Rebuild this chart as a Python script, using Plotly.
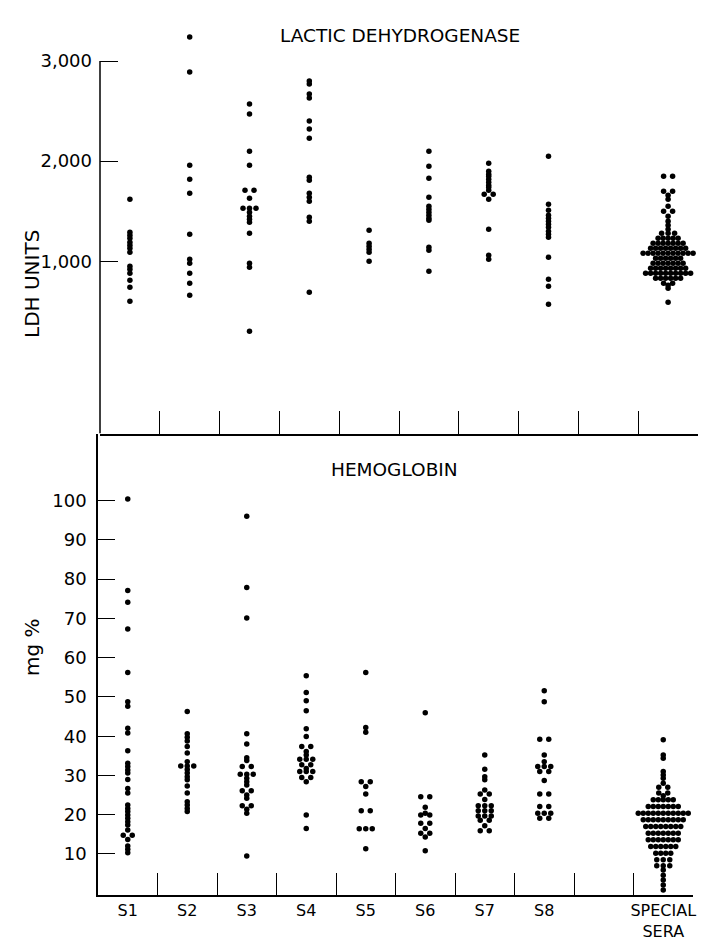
import plotly.graph_objects as go
from collections import Counter

# ---------------- data ----------------
slots = ["S1", "S2", "S3", "S4", "S5", "S6", "S7", "S8", "", "SPECIAL<br>SERA"]

ldh_s1 = [1620, 1290, 1260, 1230, 1190, 1160, 1130, 1090, 950, 920, 880, 810, 740, 600]
ldh_s2 = [3240, 2890, 1960, 1820, 1680, 1270, 1020, 980, 880, 780, 660]
ldh_s3 = [2570, 2470, 2100, 1960, 1710, 1710, 1630, 1530, 1530, 1530, 1490, 1450, 1420,
          1390, 1280, 980, 940, 300]
ldh_s4 = [2800, 2770, 2670, 2630, 2400, 2320, 2230, 1840, 1810, 1680, 1640, 1600, 1440, 1400, 690]
ldh_s5 = [1310, 1180, 1150, 1120, 1090, 1000]
ldh_s6 = [2100, 1950, 1830, 1640, 1550, 1520, 1490, 1460, 1430, 1410, 1140, 1110, 900]
ldh_s7 = [1980, 1900, 1870, 1850, 1820, 1790, 1760, 1740, 1710, 1670, 1670, 1620, 1320, 1060, 1020]
ldh_s8 = [2050, 1570, 1510, 1460, 1430, 1400, 1370, 1340, 1300, 1270, 1240, 1040, 820, 750, 570]
ldh_special = ([1850, 1850, 1700, 1700, 1660, 1620, 1550, 1500, 1500, 1450, 1400, 1360, 1320]
               + [1280] * 3 + [1230] * 5 + [1180] * 7 + [1130] * 8 + [1080] * 11
               + [1030] * 6 + [980] * 7 + [930] * 8 + [880] * 10 + [830] * 6
               + [780] * 2 + [760, 730, 590])

hb_s1 = [100.4, 77.1, 74.1, 67.3, 56.2, 48.8, 47.6, 42.0, 40.8, 36.3, 33.1, 32.3, 31.4, 30.6,
         29.0, 26.7, 25.5, 22.5, 21.6, 20.8, 19.9, 19.1, 18.2, 17.4, 16.1, 14.8, 14.8, 13.7,
         12.0, 11.2, 10.3]
hb_s2 = [46.3, 40.6, 39.7, 38.8, 37.4, 35.7, 33.5, 32.4, 32.4, 32.4, 31.5, 30.6, 29.7, 28.9,
         27.3, 25.5, 23.3, 22.5, 21.6, 20.8]
hb_s3 = [96.0, 77.9, 70.1, 40.6, 38.0, 34.5, 33.8, 32.3, 32.3, 30.3, 30.3, 30.3, 29.3, 28.4,
         27.6, 26.1, 26.1, 25.0, 24.2, 22.3, 22.3, 21.4, 20.4, 9.5]
hb_s4 = [55.4, 51.1, 49.0, 46.5, 41.9, 39.9, 37.4, 37.4, 36.1, 35.2, 34.1, 34.1, 34.1, 32.7,
         32.7, 31.8, 31.0, 31.0, 31.0, 29.5, 29.5, 28.4, 19.9, 16.5]
hb_s5 = [56.2, 42.2, 41.0, 28.4, 28.4, 27.2, 25.3, 21.0, 21.0, 16.4, 16.4, 16.4, 11.3]
hb_s6 = [46.0, 24.6, 24.6, 21.9, 20.4, 19.9, 19.9, 17.8, 17.8, 16.5, 15.3, 15.3, 14.3, 10.8]
hb_s7 = [35.2, 31.6, 29.7, 28.9, 26.3, 25.3, 25.3, 23.9, 22.3, 22.3, 22.3, 21.0, 21.0, 21.0,
         19.7, 19.7, 19.7, 18.6, 18.6, 17.2, 15.9, 15.9]
hb_s8 = [51.6, 48.8, 39.2, 39.2, 35.2, 33.5, 32.3, 32.3, 32.3, 31.0, 31.0, 28.7, 25.3, 25.3,
         22.1, 22.1, 20.4, 20.4, 20.4, 19.1, 19.1]
hb_special = ([39.1, 35.2, 34.4, 31.0, 30.1, 29.3, 28.0, 27.0, 27.0, 25.5, 25.5, 24.8]
              + [23.8] * 5 + [22.1] * 7 + [20.4] * 11 + [18.7] * 9 + [17.0] * 8
              + [15.3] * 7 + [13.6] * 7 + [11.9] * 6 + [10.2] * 4 + [8.5] * 3
              + [7.0] * 3 + [5.9, 4.6, 3.4, 2.1, 0.8])

ldh_groups = {"S1": ldh_s1, "S2": ldh_s2, "S3": ldh_s3, "S4": ldh_s4, "S5": ldh_s5,
              "S6": ldh_s6, "S7": ldh_s7, "S8": ldh_s8, "SPECIAL<br>SERA": ldh_special}
hb_groups = {"S1": hb_s1, "S2": hb_s2, "S3": hb_s3, "S4": hb_s4, "S5": hb_s5,
             "S6": hb_s6, "S7": hb_s7, "S8": hb_s8, "SPECIAL<br>SERA": hb_special}

ldh_ticks = [1000, 2000, 3000]
ldh_ticktext = ["1,000", "2,000", "3,000"]
hb_ticks = [10, 20, 30, 40, 50, 60, 70, 80, 90, 100]

# ---------------- layout helpers ----------------
VIEW_W, VIEW_H = 707, 942
OFF = 8                      # default page margin around the plot div
W, H = VIEW_W - OFF, VIEW_H - OFF
FONT = "DejaVu Sans"


def px(xp):
    return (xp - OFF) / W


def py(yp):
    return 1 - (yp - OFF) / H


LDH_MIN, LDH_AXIS_TOP, LDH_MAX = -720, 3000, 3300

top_dom_x = [px(100), px(698)]
bot_dom_x = [px(98), px(693)]
top_dom_y = [py(433.5), py(31)]
bot_dom_y = [py(895), py(433.5)]
n_slots = len(slots)


def swarm_x(slot_pos, values, px_per_unit):
    counts = Counter(values)
    seen = Counter()
    xs = []
    for v in values:
        n = counts[v]
        i = seen[v]
        seen[v] += 1
        gap = 9.0 if n == 2 else (6.5 if n == 3 else 5.0)
        xs.append(slot_pos + (i - (n - 1) / 2) * gap / px_per_unit)
    return xs


fig = go.Figure()

top_ppu = (698 - 100) / n_slots
bot_ppu = (693 - 98) / n_slots
MS = 5.5

for name, vals in ldh_groups.items():
    pos = slots.index(name) + 1
    fig.add_trace(go.Scatter(
        x=swarm_x(pos, vals, top_ppu), y=vals, mode="markers",
        marker=dict(color="black", size=MS, line=dict(width=0)),
        xaxis="x", yaxis="y", cliponaxis=False, showlegend=False, name=name))

for name, vals in hb_groups.items():
    pos = slots.index(name) + 1
    fig.add_trace(go.Scatter(
        x=swarm_x(pos, vals, bot_ppu), y=vals, mode="markers",
        marker=dict(color="black", size=MS, line=dict(width=0)),
        xaxis="x2", yaxis="y2", cliponaxis=False, showlegend=False, name=name))

boundaries = [i + 0.5 for i in range(1, n_slots + 1)]
centers = [slots.index(s) + 1 for s in slots if s]
center_text = [s for s in slots if s]

TICKFONT = dict(family=FONT, size=18, color="black")
axis_common = dict(linecolor="black", linewidth=1.5, showgrid=False, automargin=False,
                   zeroline=False, tickcolor="black", tickwidth=1.2)

fig.update_layout(
    width=W, height=H,
    margin=dict(l=0, r=0, t=0, b=0),
    paper_bgcolor="white", plot_bgcolor="white",
    showlegend=False,
    xaxis=dict(domain=top_dom_x, range=[0.5, n_slots + 0.5], anchor="y", showline=True,
               tickmode="array", tickvals=boundaries, ticks="inside", ticklen=23,
               showticklabels=False, tickfont=TICKFONT, **axis_common),
    yaxis=dict(domain=top_dom_y, range=[LDH_MIN, LDH_MAX], anchor="x", showline=False,
               tickmode="array", tickvals=ldh_ticks, ticktext=ldh_ticktext,
               ticks="inside", ticklen=18, ticklabelstandoff=7, tickfont=TICKFONT,
               **axis_common),
    xaxis2=dict(domain=bot_dom_x, range=[0.5, n_slots + 0.5], anchor="y2", showline=True,
                tickmode="array", tickvals=centers, ticktext=center_text,
                ticks="inside", ticklen=0, ticklabelstandoff=0,
                tickfont=dict(family=FONT, size=16, color="black"),
                minor=dict(tickmode="array", tickvals=boundaries, ticks="inside",
                           ticklen=22, tickcolor="black", tickwidth=1.2),
                **axis_common),
    yaxis2=dict(domain=bot_dom_y, range=[-0.45, 117.1], anchor="x2", showline=True,
                tickmode="array", tickvals=hb_ticks,
                ticks="inside", ticklen=17, ticklabelstandoff=6, tickfont=TICKFONT,
                **axis_common),
)

# left axis line of the LDH panel, drawn only up to the 3,000 tick as in the original
fig.add_shape(type="line", xref="x domain", yref="y", x0=0, x1=0,
              y0=LDH_MIN, y1=LDH_AXIS_TOP, line=dict(color="black", width=1.5))

TITLE_FONT = dict(family=FONT, size=18.5, color="black")
fig.add_annotation(text="LACTIC DEHYDROGENASE", x=px(400), y=py(23), xref="paper",
                   yref="paper", showarrow=False, font=TITLE_FONT)
fig.add_annotation(text="HEMOGLOBIN", x=px(394), y=py(470), xref="paper",
                   yref="paper", showarrow=False, font=TITLE_FONT)
fig.add_annotation(text="LDH UNITS", x=px(18), y=py(228), xref="paper", yref="paper",
                   showarrow=False, textangle=-90, font=dict(family=FONT, size=20, color="black"))
fig.add_annotation(text="mg %", x=px(18), y=py(678), xref="paper", yref="paper",
                   showarrow=False, textangle=-90, font=dict(family=FONT, size=20, color="black"))

fig.write_html("out.html")
